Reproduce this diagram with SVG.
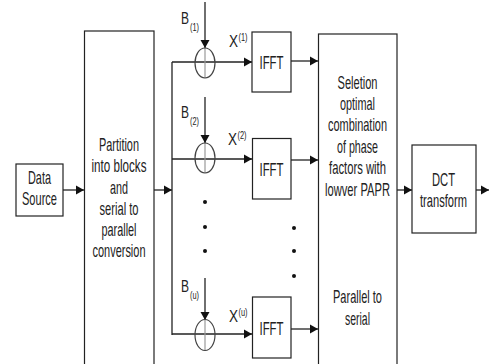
<svg xmlns="http://www.w3.org/2000/svg" width="489" height="364" viewBox="0 0 489 364">
<style>
.box{fill:#fff;stroke:#222;stroke-width:1.2}
.ln{fill:none;stroke:#222;stroke-width:1.3}
.t{font-family:"Liberation Sans",Arial,sans-serif;font-size:19px;fill:#222;text-anchor:middle}
.s{font-family:"Liberation Sans",Arial,sans-serif;font-size:16px;fill:#222}
.sm{font-family:"Liberation Sans",Arial,sans-serif;font-size:11px;fill:#222}
.circ{fill:none;stroke:#444;stroke-width:1.2}
.cross{stroke:#999;stroke-width:1.2}
</style>
<defs>
<marker id="ah" markerUnits="userSpaceOnUse" markerWidth="9" markerHeight="10" refX="8" refY="5" orient="auto">
<path d="M0,0.5 L8,5 L0,9.5 z" fill="#111"/>
</marker>
</defs>
<rect width="489" height="364" fill="#fff"/>

<g id="connectors">
<path class="ln" d="M63,190 L84,190" marker-end="url(#ah)"/>
<path class="ln" d="M154,190 L172,190" marker-end="url(#ah)"/>
<path class="ln" d="M172,62 L172,335"/>
<path class="ln" d="M172,62 L252,62" marker-end="url(#ah)"/>
<path class="ln" d="M172,159 L252,159" marker-end="url(#ah)"/>
<path class="ln" d="M172,334 L252,334" marker-end="url(#ah)"/>
<path class="ln" d="M205,2 L205,48" marker-end="url(#ah)"/>
<path class="ln" d="M205,97 L205,143" marker-end="url(#ah)"/>
<path class="ln" d="M205,278 L205,320" marker-end="url(#ah)"/>
<path class="ln" d="M291,61 L318,61" marker-end="url(#ah)"/>
<path class="ln" d="M291,160 L318,160" marker-end="url(#ah)"/>
<path class="ln" d="M291,329 L318,329" marker-end="url(#ah)"/>
<path class="ln" d="M397,190 L412,190" marker-end="url(#ah)"/>
<path class="ln" d="M476,190 L489,190" marker-end="url(#ah)"/>
</g>

<g id="data-source">
<rect class="box" x="16" y="164" width="47" height="52"/>
<text class="t" x="39.5" y="184" textLength="23" lengthAdjust="spacingAndGlyphs">Data</text>
<text class="t" x="39.5" y="205" textLength="35" lengthAdjust="spacingAndGlyphs">Source</text>
</g>

<g id="partition">
<rect class="box" x="84.5" y="31" width="69.5" height="340"/>
<text class="t" x="119" y="151" textLength="40" lengthAdjust="spacingAndGlyphs">Partition</text>
<text class="t" x="119" y="172" textLength="55" lengthAdjust="spacingAndGlyphs">into blocks</text>
<text class="t" x="119" y="193.5" textLength="18" lengthAdjust="spacingAndGlyphs">and</text>
<text class="t" x="119" y="215" textLength="39" lengthAdjust="spacingAndGlyphs">serial to</text>
<text class="t" x="119" y="236" textLength="35" lengthAdjust="spacingAndGlyphs">parallel</text>
<text class="t" x="119" y="257" textLength="53" lengthAdjust="spacingAndGlyphs">conversion</text>
</g>

<g id="adder-1">
<line class="cross" x1="205" y1="48" x2="205" y2="78"/>
<ellipse class="circ" cx="205" cy="63" rx="10" ry="15"/>
<text class="s" x="181" y="24" textLength="8" lengthAdjust="spacingAndGlyphs">B</text>
<text class="sm" x="190" y="31" textLength="9" lengthAdjust="spacingAndGlyphs">(1)</text>
<text class="s" x="229" y="47" textLength="9" lengthAdjust="spacingAndGlyphs">X</text>
<text class="sm" x="238.5" y="41" textLength="9" lengthAdjust="spacingAndGlyphs">(1)</text>
</g>

<g id="adder-2">
<line class="cross" x1="205" y1="143" x2="205" y2="173"/>
<ellipse class="circ" cx="205" cy="158" rx="10" ry="15"/>
<text class="s" x="181" y="118" textLength="8" lengthAdjust="spacingAndGlyphs">B</text>
<text class="sm" x="190" y="125" textLength="9" lengthAdjust="spacingAndGlyphs">(2)</text>
<text class="s" x="228" y="145" textLength="9" lengthAdjust="spacingAndGlyphs">X</text>
<text class="sm" x="237.5" y="139" textLength="9" lengthAdjust="spacingAndGlyphs">(2)</text>
</g>

<g id="adder-u">
<line class="cross" x1="205" y1="320" x2="205" y2="351"/>
<ellipse class="circ" cx="205" cy="335" rx="10" ry="15.5"/>
<text class="s" x="181" y="292" textLength="8" lengthAdjust="spacingAndGlyphs">B</text>
<text class="sm" x="190" y="299" textLength="9" lengthAdjust="spacingAndGlyphs">(u)</text>
<text class="s" x="229" y="322" textLength="9" lengthAdjust="spacingAndGlyphs">X</text>
<text class="sm" x="238.5" y="316" textLength="9" lengthAdjust="spacingAndGlyphs">(u)</text>
</g>

<g id="dots-left" fill="#111">
<circle cx="205" cy="202" r="2"/>
<circle cx="205" cy="227" r="2"/>
<circle cx="205" cy="251" r="2"/>
</g>

<g id="ifft-1">
<rect class="box" x="252" y="32" width="39" height="60"/>
<text class="t" x="271.5" y="68.5" textLength="24" lengthAdjust="spacingAndGlyphs">IFFT</text>
</g>
<g id="ifft-2">
<rect class="box" x="252.5" y="138.5" width="38.5" height="60.5"/>
<text class="t" x="271.5" y="175.5" textLength="24" lengthAdjust="spacingAndGlyphs">IFFT</text>
</g>
<g id="ifft-u">
<rect class="box" x="252.5" y="297" width="38.5" height="61"/>
<text class="t" x="271.5" y="335" textLength="24" lengthAdjust="spacingAndGlyphs">IFFT</text>
</g>

<g id="dots-right" fill="#111">
<circle cx="294" cy="228" r="2"/>
<circle cx="294" cy="251" r="2"/>
<circle cx="294" cy="276" r="2"/>
</g>

<g id="selection">
<rect class="box" x="318.5" y="34" width="78.5" height="340"/>
<text class="t" x="357.5" y="88.5" textLength="40" lengthAdjust="spacingAndGlyphs">Seletion</text>
<text class="t" x="357.5" y="109.5" textLength="35" lengthAdjust="spacingAndGlyphs">optimal</text>
<text class="t" x="357.5" y="131" textLength="59" lengthAdjust="spacingAndGlyphs">combination</text>
<text class="t" x="357.5" y="152.5" textLength="41" lengthAdjust="spacingAndGlyphs">of phase</text>
<text class="t" x="357.5" y="174" textLength="57" lengthAdjust="spacingAndGlyphs">factors with</text>
<text class="t" x="357.5" y="195.5" textLength="65" lengthAdjust="spacingAndGlyphs">lowver PAPR</text>
<text class="t" x="357.5" y="303" textLength="49" lengthAdjust="spacingAndGlyphs">Parallel to</text>
<text class="t" x="357.5" y="324.5" textLength="25" lengthAdjust="spacingAndGlyphs">serial</text>
</g>

<g id="dct">
<rect class="box" x="412" y="145" width="64" height="88"/>
<text class="t" x="443.5" y="186" textLength="23" lengthAdjust="spacingAndGlyphs">DCT</text>
<text class="t" x="443.5" y="206.5" textLength="47" lengthAdjust="spacingAndGlyphs">transform</text>
</g>
</svg>
